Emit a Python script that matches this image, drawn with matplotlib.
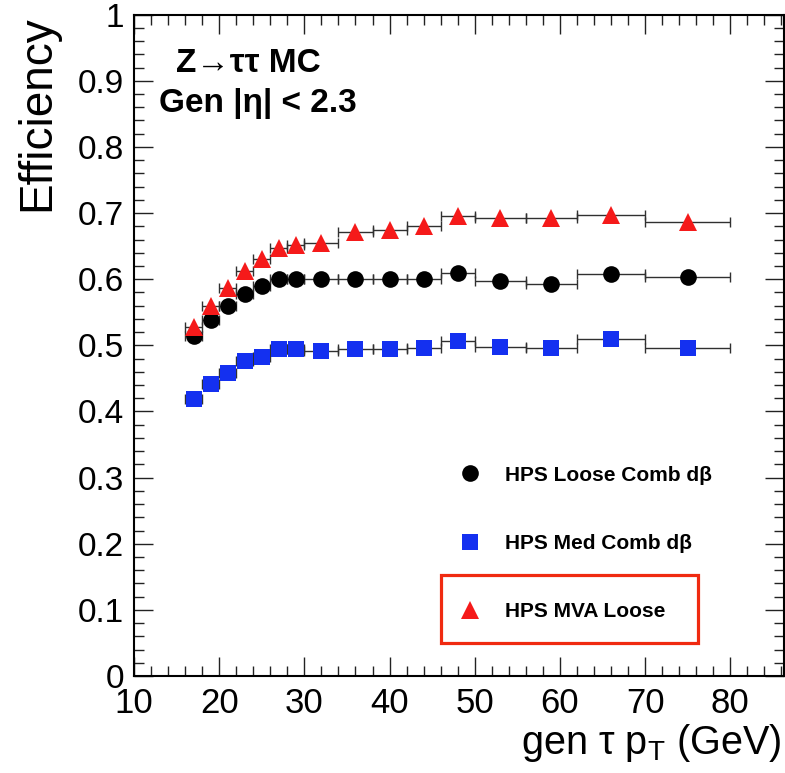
import matplotlib
matplotlib.use('Agg')
import matplotlib.pyplot as plt
import numpy as np
from matplotlib.ticker import MultipleLocator, FuncFormatter
from matplotlib.patches import Rectangle

plt.rcParams['font.family'] = ['Liberation Sans', 'DejaVu Sans']
plt.rcParams['mathtext.fontset'] = 'custom'
plt.rcParams['mathtext.rm'] = 'Liberation Sans'
plt.rcParams['mathtext.it'] = 'Liberation Sans:italic'

# ── gen-level tau pT bins and efficiencies ───────────────────────────────────
pt_edges = [16, 18, 20, 22, 24, 26, 28, 30, 34, 38, 42, 46, 50, 56, 62, 70, 80]

eff_loose = [0.514, 0.539, 0.560, 0.578, 0.589, 0.600, 0.600, 0.600,
             0.600, 0.600, 0.601, 0.610, 0.598, 0.592, 0.608, 0.603]
eff_med   = [0.419, 0.442, 0.458, 0.476, 0.482, 0.495, 0.495, 0.492,
             0.495, 0.495, 0.496, 0.506, 0.498, 0.496, 0.510, 0.496]
eff_mva   = [0.527, 0.560, 0.587, 0.612, 0.630, 0.647, 0.651, 0.655,
             0.671, 0.674, 0.680, 0.695, 0.692, 0.692, 0.697, 0.687]

labels = ['HPS Loose Comb d\u03b2', 'HPS Med Comb d\u03b2', 'HPS MVA Loose']

BLACK = '#000000'
BLUE  = '#1430f0'
RED   = '#f51a1a'

edges = np.array(pt_edges, dtype=float)
pt    = 0.5 * (edges[1:] + edges[:-1])
pt_w  = 0.5 * (edges[1:] - edges[:-1])

fig = plt.figure(figsize=(7.85, 7.73), dpi=100)
ax = fig.add_axes([0.1707, 0.1255, 0.8280, 0.8555])

series = [
    (eff_med,   's', BLUE,  12, labels[1]),
    (eff_loose, 'o', BLACK, 12, labels[0]),
    (eff_mva,   '^', RED,   12.5, labels[2]),
]
handles = {}
for eff, mk, col, ms, lab in series:
    ax.errorbar(pt, eff, xerr=pt_w, fmt='none', ecolor='#303030',
                elinewidth=1.0, capsize=3.5, capthick=1.0, zorder=2)
    h, = ax.plot(pt, eff, linestyle='none', marker=mk, markersize=ms,
                 color=col, markeredgewidth=0, label=lab, zorder=3)
    handles[lab] = h

ax.set_xlim(10, 86.3)
ax.set_ylim(0, 1)

ax.xaxis.set_major_locator(MultipleLocator(10))
ax.xaxis.set_minor_locator(MultipleLocator(2))
ax.yaxis.set_major_locator(MultipleLocator(0.1))
ax.yaxis.set_minor_locator(MultipleLocator(0.02))
ax.yaxis.set_major_formatter(FuncFormatter(lambda v, p: f'{v:g}'))

ax.tick_params(which='both', direction='in', top=True, right=True,
               width=1.0, color='#222222')
ax.tick_params(which='major', length=14)
ax.tick_params(which='minor', length=7)
ax.tick_params(axis='x', which='major', labelsize=25, pad=8)
ax.tick_params(axis='y', which='major', labelsize=24, pad=7)
for sp in ax.spines.values():
    sp.set_linewidth(1.5)

fig.text(15 / 785, 1 - 15 / 773, 'Efficiency', rotation=90,
         ha='left', va='top', fontsize=33)
fig.text(781 / 785, 1 - 754 / 773, r'gen τ p$_\mathrm{T}$ (GeV)',
         ha='right', va='baseline', fontsize=28.5)

ax.text(0.064, 0.914, 'Z\u2192\u03c4\u03c4 MC', transform=ax.transAxes,
        fontsize=24, fontweight='bold', va='baseline')
ax.text(0.039, 0.853, 'Gen |\u03b7| < 2.3', transform=ax.transAxes,
        fontsize=24, fontweight='bold', va='baseline')

leg = ax.legend([handles[l] for l in labels], labels,
                loc='upper left', bbox_to_anchor=(0.501, 0.318),
                frameon=False, borderpad=0, borderaxespad=0,
                handlelength=1.0, handletextpad=1.2, labelspacing=2.37,
                numpoints=1, prop={'size': 15, 'weight': 'bold'})

ax.add_patch(Rectangle((0.472, 0.050), 0.396, 0.103, transform=ax.transAxes,
                       fill=False, edgecolor='#f02a10', linewidth=2.3,
                       zorder=5))

fig.savefig('out.png', dpi=100)
